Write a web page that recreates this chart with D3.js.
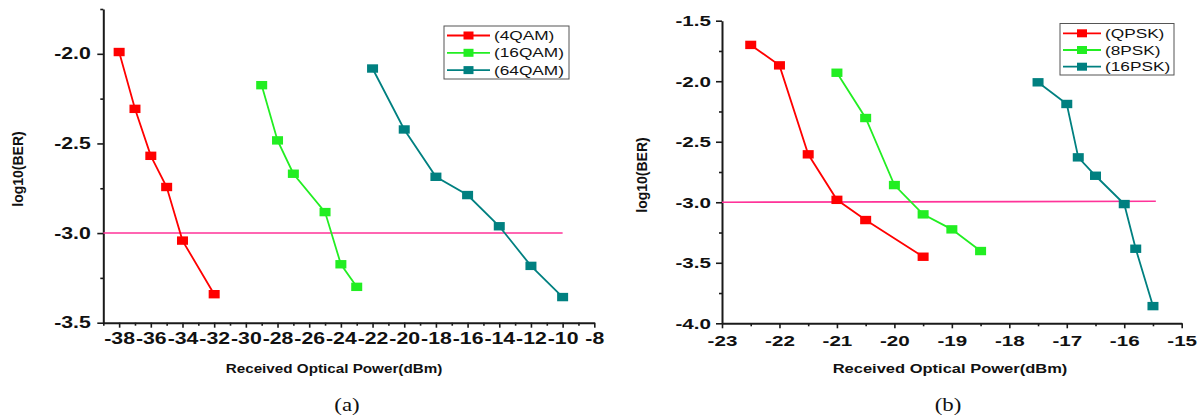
<!DOCTYPE html>
<html>
<head>
<meta charset="utf-8">
<script src="https://cdn.jsdelivr.net/npm/d3@7"></script>
<style>
  body { margin: 0; background: #fff; }
  svg { display: block; }
  text { font-family: "Liberation Sans", Arial, sans-serif; fill: #111; }
</style>
</head>
<body>
<svg id="chart" width="1204" height="415"></svg>
<script>
// DATA - panel (a), QAM
const qamNames = ["(4QAM)", "(16QAM)", "(64QAM)"]
const qam4Power = [-38, -37, -36, -35, -34, -32]
const qam4Ber = [-1.99, -2.307, -2.569, -2.743, -3.042, -3.341]
const qam16Power = [-29, -28, -27, -25, -24, -23]
const qam16Ber = [-2.175, -2.483, -2.669, -2.883, -3.174, -3.30]
const qam64Power = [-22, -20, -18, -16, -14, -12, -10]
const qam64Ber = [-2.082, -2.422, -2.686, -2.788, -2.962, -3.183, -3.357]
const qamLimitPower = [-39, -10]
const qamLimitBer = [-3.0, -3.0]

// DATA - panel (b), PSK
const pskNames = ["(QPSK)", "(8PSK)", "(16PSK)"]
const qpskPower = [-22.5, -22, -21.5, -21, -20.5, -19.5]
const qpskBer = [-1.70, -1.869, -2.604, -2.98, -3.147, -3.45]
const psk8Power = [-21, -20.5, -20, -19.5, -19, -18.5]
const psk8Ber = [-1.93, -2.304, -2.858, -3.10, -3.224, -3.403]
const psk16Power = [-17.5, -17, -16.8, -16.5, -16, -15.8, -15.5]
const psk16Ber = [-2.009, -2.188, -2.629, -2.781, -3.015, -3.384, -3.858]
const pskLimitPower = [-23, -15.45]
const pskLimitBer = [-3.0, -2.992]

const colors = ["#ff0000", "#22ee22", "#008080"]
const limitColor = "#ff3399"
const SX = 1.33 // reference text looks stretched sideways

const zip = (xs, ys) => xs.map((x, i) => ({x: x, y: ys[i]}))

const svg = d3.select("#chart")

function drawPanel(cfg) {
  const xScale = d3.scaleLinear().domain(cfg.xDomain).range(cfg.xRange)
  const yScale = d3.scaleLinear().domain(cfg.yDomain).range(cfg.yRange)
  const g = svg.append("g")
  const y0 = cfg.yRange[0], x0 = cfg.xRange[0]

  // minor ticks
  g.append("g")
    .attr("transform", `translate(0, ${y0})`)
    .call(d3.axisBottom(xScale).tickValues(cfg.xMinor).tickSize(3).tickSizeOuter(0).tickFormat(""))
    .call(a => a.select(".domain").remove())
  g.append("g")
    .attr("transform", `translate(${x0}, 0)`)
    .call(d3.axisLeft(yScale).tickValues(cfg.yMinor).tickSize(3).tickSizeOuter(0).tickFormat(""))
    .call(a => a.select(".domain").remove())

  // major ticks + labels (plain hyphen as in the original)
  const xAxis = g.append("g")
    .attr("transform", `translate(0, ${y0})`)
    .call(d3.axisBottom(xScale).tickValues(cfg.xMajor).tickSize(5).tickSizeOuter(0)
      .tickPadding(cfg.xPad).tickFormat(d => d.toFixed(0)))
  const yAxis = g.append("g")
    .attr("transform", `translate(${x0}, 0)`)
    .call(d3.axisLeft(yScale).tickValues(cfg.yMajor).tickSize(6).tickSizeOuter(0)
      .tickFormat(d => d.toFixed(1)))

  g.selectAll(".tick line, .domain").attr("stroke", "#1a1a1a").attr("stroke-width", 1.6)
  g.selectAll(".domain").attr("stroke-width", 2)
  xAxis.selectAll("text")
    .attr("font-size", cfg.tickSize).attr("font-weight", "bold").attr("fill", "#111")
    .attr("transform", `scale(${SX},1)`)
  yAxis.selectAll("text")
    .attr("font-size", cfg.tickSize).attr("font-weight", "bold").attr("fill", "#111")
    .attr("x", -cfg.yPad / SX)
    .attr("transform", `scale(${SX},1)`)

  // threshold line
  const line = d3.line().x(d => xScale(d.x)).y(d => yScale(d.y))
  g.append("path")
    .datum(zip(cfg.limitX, cfg.limitY))
    .attr("d", line)
    .attr("fill", "none")
    .attr("stroke", limitColor)
    .attr("stroke-width", 1.6)

  // series
  cfg.series.forEach((s, i) => {
    const pts = zip(s.x, s.y)
    g.append("path")
      .datum(pts)
      .attr("d", line)
      .attr("fill", "none")
      .attr("stroke", colors[i])
      .attr("stroke-width", 1.8)
    g.selectAll(null)
      .data(pts)
      .join("rect")
        .attr("x", d => xScale(d.x) - 5.5)
        .attr("y", d => yScale(d.y) - 4.2)
        .attr("width", 11)
        .attr("height", 8.4)
        .attr("fill", colors[i])
  })

  // legend
  const lg = g.append("g").attr("transform", `translate(${cfg.legend.x}, ${cfg.legend.y})`)
  lg.append("rect")
    .attr("width", cfg.legend.w).attr("height", cfg.legend.h)
    .attr("fill", "#fff").attr("stroke", "#555").attr("stroke-width", 1)
  cfg.names.forEach((name, i) => {
    const ly = cfg.legend.first + i * cfg.legend.step
    lg.append("line")
      .attr("x1", 3).attr("x2", cfg.legend.lineW + 3)
      .attr("y1", ly).attr("y2", ly)
      .attr("stroke", colors[i]).attr("stroke-width", 1.8)
    lg.append("rect")
      .attr("x", 3 + cfg.legend.lineW / 2 - 5).attr("y", ly - 4)
      .attr("width", 10).attr("height", 8)
      .attr("fill", colors[i])
    lg.append("text")
      .attr("transform", `translate(${cfg.legend.lineW + 7}, ${ly + 4.5}) scale(1.38,1)`)
      .attr("font-size", 12.5)
      .text(name)
  })

  // axis titles
  g.append("text")
    .attr("transform", `translate(${cfg.xTitleX}, 373) scale(1.27,1)`)
    .attr("text-anchor", "middle")
    .attr("font-size", cfg.xTitleSize)
    .attr("font-weight", "bold")
    .text("Received Optical Power(dBm)")
  g.append("text")
    .attr("transform", `translate(${cfg.yTitleX}, ${cfg.yTitleY}) rotate(-90)`)
    .attr("text-anchor", "middle")
    .attr("dy", "0.36em")
    .attr("font-size", 14)
    .attr("font-weight", "bold")
    .text("log10(BER)")

  // caption
  g.append("text")
    .attr("transform", `translate(${cfg.captionX}, 411) scale(1.27,1)`)
    .attr("text-anchor", "middle")
    .style("font-family", "'Liberation Serif', 'Times New Roman', serif")
    .attr("font-size", 18)
    .text(cfg.caption)
}

drawPanel({
  xDomain: [-39, -8], xRange: [103.3, 594.3],
  yDomain: [-3.5, -1.75], yRange: [322.7, 9],
  xMajor: d3.range(-38, -7, 2), xMinor: d3.range(-39, -8, 2),
  yMajor: [-3.5, -3.0, -2.5, -2.0], yMinor: [-3.25, -2.75, -2.25, -1.75],
  tickSize: 16, xPad: 5, yPad: 12.5,
  limitX: qamLimitPower, limitY: qamLimitBer,
  series: [
    {x: qam4Power, y: qam4Ber},
    {x: qam16Power, y: qam16Ber},
    {x: qam64Power, y: qam64Ber}
  ],
  names: qamNames,
  legend: {x: 444, y: 26, w: 125, h: 53, first: 9.5, step: 17.3, lineW: 43},
  xTitleX: 334, xTitleSize: 12,
  yTitleX: 18, yTitleY: 169,
  captionX: 347, caption: "(a)"
})

drawPanel({
  xDomain: [-23, -15], xRange: [722, 1181.7],
  yDomain: [-4.0, -1.5], yRange: [323.3, 20.7],
  xMajor: d3.range(-23, -14.9, 1), xMinor: d3.range(-22.5, -15, 1),
  yMajor: [-4.0, -3.5, -3.0, -2.5, -2.0, -1.5], yMinor: [-3.75, -3.25, -2.75, -2.25, -1.75],
  tickSize: 15.5, xPad: 7, yPad: 11,
  limitX: pskLimitPower, limitY: pskLimitBer,
  series: [
    {x: qpskPower, y: qpskBer},
    {x: psk8Power, y: psk8Ber},
    {x: psk16Power, y: psk16Ber}
  ],
  names: pskNames,
  legend: {x: 1060, y: 23.5, w: 114, h: 51.5, first: 9.8, step: 16.7, lineW: 38},
  xTitleX: 950, xTitleSize: 13,
  yTitleX: 642, yTitleY: 175,
  captionX: 948, caption: "(b)"
})
</script>
</body>
</html>
